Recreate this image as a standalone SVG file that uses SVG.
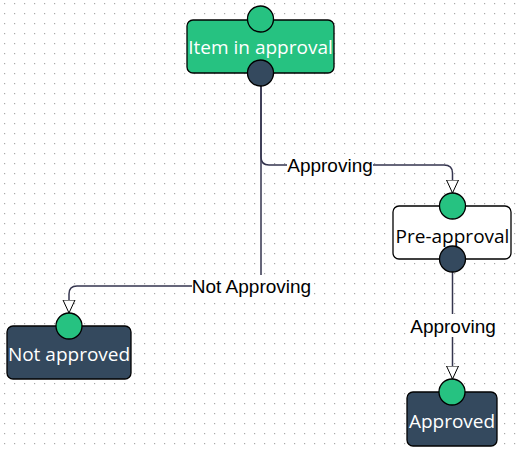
<svg xmlns="http://www.w3.org/2000/svg" width="519" height="452" viewBox="0 0 519 452">
<defs>
<pattern id="grid" x="4" y="3" width="10" height="10" patternUnits="userSpaceOnUse">
<rect x="0" y="0" width="1.2" height="1.2" fill="#a8a8a8"/>
</pattern>
<marker id="arrow" markerWidth="15" markerHeight="14" refX="13.5" refY="7" orient="auto" markerUnits="userSpaceOnUse" viewBox="0 0 15 14">
<path d="M0.5,1 L13.5,7 L0.5,13 Z" fill="#ffffff" stroke="#000000" stroke-width="1"/>
</marker>
<style>
.node{stroke:#000;stroke-width:1.3}
.green{fill:#26c281}
.dark{fill:#34495e}
.white{fill:#ffffff}
.port{stroke:#000;stroke-width:1.3}
.ntext{font-family:"Open Sans","Noto Sans",sans-serif;font-size:19px;text-anchor:middle;dominant-baseline:central}
.edge{fill:none;stroke:#35354f;stroke-width:1.5}
.elabel{font-family:"Liberation Sans",Arial,sans-serif;font-size:19px;text-anchor:middle;dominant-baseline:central;fill:#000}
.lbg{fill:#ffffff}
</style>
</defs>
<rect width="519" height="452" fill="#ffffff"/>
<rect width="519" height="452" fill="url(#grid)"/>
<g id="connectors">
<path class="edge" d="M261,86 V157 Q261,165 269,165 H444 Q452.5,165 452.5,173 V193" marker-end="url(#arrow)"/>
<path class="edge" d="M261,86 V286 H77 Q69,286 69,294 V313" marker-end="url(#arrow)"/>
<path class="edge" d="M452.5,272 V379" marker-end="url(#arrow)"/>
<rect class="lbg" x="287" y="154" width="86" height="22"/>
<text class="elabel" x="330" y="165">Approving</text>
<rect class="lbg" x="192" y="275" width="119" height="22"/>
<text class="elabel" x="251.5" y="286">Not Approving</text>
<rect class="lbg" x="409" y="314" width="88" height="23"/>
<text class="elabel" x="453" y="326">Approving</text>
</g>
<g id="node-item-in-approval">
<rect class="node green" x="187" y="20" width="147" height="53" rx="6"/>
<text class="ntext" x="260.5" y="47" fill="#ffffff">Item in approval</text>
<circle class="port green" cx="260.5" cy="19" r="13"/>
<circle class="port dark" cx="260.5" cy="73" r="13"/>
</g>
<g id="node-pre-approval">
<rect class="node white" x="393" y="206" width="118" height="53" rx="6"/>
<text class="ntext" x="452.5" y="236" fill="#000000">Pre-approval</text>
<circle class="port green" cx="452.5" cy="206" r="13"/>
<circle class="port dark" cx="452.5" cy="259" r="13"/>
</g>
<g id="node-not-approved">
<rect class="node dark" x="7" y="326" width="124" height="53" rx="6"/>
<text class="ntext" x="69" y="354" fill="#ffffff">Not approved</text>
<circle class="port green" cx="69" cy="326" r="13"/>
</g>
<g id="node-approved">
<rect class="node dark" x="407" y="392" width="90" height="54" rx="6"/>
<text class="ntext" x="452" y="421" fill="#ffffff">Approved</text>
<circle class="port green" cx="452" cy="392" r="13"/>
</g>
</svg>
